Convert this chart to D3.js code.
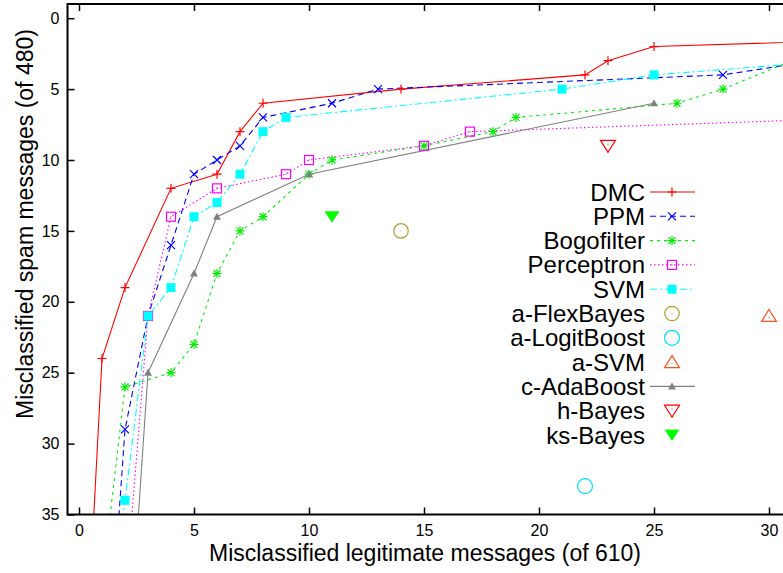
<!DOCTYPE html>
<html lang="en">
<head>
<meta charset="utf-8">
<title>Misclassified messages</title>
<script src="https://d3js.org/d3.v7.min.js"></script>
<style>
  body { margin: 0; background: #fff; }
  svg { font-family: "Liberation Sans", Arial, Helvetica, sans-serif; }
</style>
</head>
<body>
<script>
// data (x = legitimate misclassified, y = spam misclassified)
var dmcX = [0, 1, 2, 4, 6, 7, 8, 14, 22, 23, 25, 35];
var dmcY = [55, 24, 19, 12, 11, 8, 6, 5, 4, 3, 2, 1.5];
var ppmX = [1, 2, 3, 4, 5, 6, 7, 8, 11, 13, 28, 32];
var ppmY = [52, 29, 21, 16, 11, 10, 9, 7, 6, 5, 4, 3];
var bogoX = [1, 2, 4, 5, 6, 7, 8, 10, 11, 15, 18, 19, 26, 28, 31];
var bogoY = [40, 26, 25, 23, 18, 15, 14, 11, 10, 9, 8, 7, 6, 5, 3];
var percX = [2, 3, 4, 6, 9, 10, 15, 17, 40];
var percY = [41, 21, 14, 12, 11, 10, 9, 8, 6.7];
var svmX = [1, 2, 3, 4, 5, 6, 7, 8, 9, 21, 25, 33];
var svmY = [48, 34, 21, 19, 14, 13, 11, 8, 7, 5, 4, 3];
var adaX = [2, 3, 5, 6, 10, 25];
var adaY = [49, 25, 18, 14, 11, 6];
var flexX = [14], flexY = [15];
var logitX = [22], logitY = [33];
var asvmX = [30], asvmY = [21];
var hbayesX = [23], hbayesY = [9];
var ksX = [11], ksY = [14];

var xTicks = [0, 5, 10, 15, 20, 25, 30];
var yTicks = [0, 5, 10, 15, 20, 25, 30, 35];

var width = 783, height = 573;
var pLeft = 67.5, pTop = 4, pBottom = 514.5, pRight = 792;

var x = d3.scaleLinear().domain([-0.5, 31]).range([pLeft, pRight]);
var y = d3.scaleLinear().domain([-1, 35]).range([pTop, pBottom]);

var svg = d3.select("body").append("svg")
    .attr("width", width)
    .attr("height", height);

svg.append("clipPath").attr("id", "plotclip")
  .append("rect")
    .attr("x", pLeft).attr("y", pTop)
    .attr("width", pRight - pLeft).attr("height", pBottom - pTop);

function zip(xs, ys) {
  return xs.map(function(v, i) { return [v, ys[i]]; });
}

// marker painter, g is a group translated to the point
function marker(g, type, color) {
  if (type == "plus") {
    g.append("path").attr("d", "M-4.5,0H4.5M0,-4.5V4.5").attr("stroke", color).attr("stroke-width", 1.2).attr("fill", "none");
  } else if (type == "cross") {
    g.append("path").attr("d", "M-4,-4L4,4M-4,4L4,-4").attr("stroke", color).attr("stroke-width", 1.2).attr("fill", "none");
  } else if (type == "star") {
    g.append("path").attr("d", "M-4.5,0H4.5M0,-4.5V4.5M-3.5,-3.5L3.5,3.5M-3.5,3.5L3.5,-3.5").attr("stroke", color).attr("stroke-width", 1.2).attr("fill", "none");
  } else if (type == "box") {
    g.append("rect").attr("x", -4.5).attr("y", -4.5).attr("width", 9).attr("height", 9)
      .attr("fill", "none").attr("stroke", color).attr("stroke-width", 1.2);
    g.append("rect").attr("x", -0.5).attr("y", -0.5).attr("width", 1).attr("height", 1).attr("fill", color);
  } else if (type == "fbox") {
    g.append("rect").attr("x", -4.5).attr("y", -4.5).attr("width", 9).attr("height", 9).attr("fill", color);
  } else if (type == "circle") {
    g.append("circle").attr("r", 7.2).attr("fill", "none").attr("stroke", color).attr("stroke-width", 1.2);
    g.append("rect").attr("x", -0.5).attr("y", -0.5).attr("width", 1).attr("height", 1).attr("fill", color);
  } else if (type == "bigcircle") {
    g.append("circle").attr("r", 7.5).attr("fill", "none").attr("stroke", color).attr("stroke-width", 1.2);
  } else if (type == "tri") {
    g.append("path").attr("d", "M0,-6.5L7.5,5.5H-7.5Z").attr("fill", "none").attr("stroke", color).attr("stroke-width", 1.2);
    g.append("rect").attr("x", -0.5).attr("y", 1).attr("width", 1).attr("height", 1).attr("fill", color);
  } else if (type == "trid") {
    g.append("path").attr("d", "M0,6.5L7.5,-5.5H-7.5Z").attr("fill", "none").attr("stroke", color).attr("stroke-width", 1.2);
    g.append("rect").attr("x", -0.5).attr("y", -2).attr("width", 1).attr("height", 1).attr("fill", color);
  } else if (type == "ftrid") {
    g.append("path").attr("d", "M0,6L7.5,-5.5H-7.5Z").attr("fill", color);
  } else if (type == "ftri") {
    g.append("path").attr("d", "M0,-4L4,3H-4Z").attr("fill", color);
  }
}

var series = [
  {name: "DMC", xs: dmcX, ys: dmcY, color: "#ff0000", dash: null, mark: "plus", line: true},
  {name: "PPM", xs: ppmX, ys: ppmY, color: "#0000ff", dash: "6,4", mark: "cross", line: true},
  {name: "Bogofilter", xs: bogoX, ys: bogoY, color: "#00ee00", dash: "3,4", mark: "star", line: true},
  {name: "Perceptron", xs: percX, ys: percY, color: "#ff00ff", dash: "1.5,2.5", mark: "box", line: true},
  {name: "SVM", xs: svmX, ys: svmY, color: "#00ffff", dash: "7,3,2,3", mark: "fbox", line: true},
  {name: "a-FlexBayes", xs: flexX, ys: flexY, color: "#b0a030", dash: null, mark: "circle", line: false},
  {name: "a-LogitBoost", xs: logitX, ys: logitY, color: "#00e0ff", dash: null, mark: "bigcircle", line: false},
  {name: "a-SVM", xs: asvmX, ys: asvmY, color: "#ff5020", dash: null, mark: "tri", line: false},
  {name: "c-AdaBoost", xs: adaX, ys: adaY, color: "#808080", dash: null, mark: "ftri", line: true},
  {name: "h-Bayes", xs: hbayesX, ys: hbayesY, color: "#ff0000", dash: null, mark: "trid", line: false},
  {name: "ks-Bayes", xs: ksX, ys: ksY, color: "#00ff00", dash: null, mark: "ftrid", line: false}
];

var plot = svg.append("g").attr("clip-path", "url(#plotclip)");
var line = d3.line().x(function(d) { return x(d[0]); }).y(function(d) { return y(d[1]); });

// draw lines first, in legend order
series.forEach(function(s) {
  if (!s.line) return;
  plot.append("path")
    .datum(zip(s.xs, s.ys))
    .attr("d", line)
    .attr("fill", "none")
    .attr("stroke", s.color)
    .attr("stroke-width", 1.1)
    .attr("stroke-dasharray", s.dash);
});
series.forEach(function(s) {
  zip(s.xs, s.ys).forEach(function(p) {
    var g = plot.append("g").attr("transform", "translate(" + x(p[0]) + "," + y(p[1]) + ")");
    marker(g, s.mark, s.color);
  });
});

// axes, gnuplot style ticks pointing in
svg.append("g")
    .attr("transform", "translate(0," + pBottom + ")")
    .call(d3.axisBottom(x).tickValues(xTicks).tickSizeInner(-7).tickSizeOuter(0).tickPadding(10));
svg.append("g")
    .attr("transform", "translate(0," + pTop + ")")
    .call(d3.axisTop(x).tickValues(xTicks).tickSizeInner(-7).tickSizeOuter(0).tickFormat(""));
svg.append("g")
    .attr("transform", "translate(" + pLeft + ",0)")
    .call(d3.axisLeft(y).tickValues(yTicks).tickSizeInner(-7).tickSizeOuter(0).tickPadding(8));

svg.selectAll(".domain").remove();
svg.selectAll(".tick line").attr("stroke", "#000").attr("stroke-width", 1.5);
svg.selectAll(".tick text")
    .attr("font-family", null)
    .attr("fill", "#000")
    .style("font-size", "16px");

svg.append("rect")
    .attr("x", pLeft).attr("y", pTop)
    .attr("width", pRight - pLeft).attr("height", pBottom - pTop)
    .attr("fill", "none").attr("stroke", "#000").attr("stroke-width", 2);

// axis titles
svg.append("text")
    .attr("x", 425).attr("y", 561)
    .attr("text-anchor", "middle")
    .attr("font-size", 23)
    .text("Misclassified legitimate messages (of 610)");
svg.append("text")
    .attr("transform", "translate(33,224) rotate(-90)")
    .attr("text-anchor", "middle")
    .attr("font-size", 23)
    .text("Misclassified spam messages (of 480)");

// legend
var legend = svg.append("g");
series.forEach(function(s, i) {
  var cy = 192 + i * 24.3;
  legend.append("text")
    .attr("x", 645).attr("y", cy + 8.5)
    .attr("text-anchor", "end")
    .attr("font-size", 24)
    .text(s.name);
  if (s.line) {
    legend.append("line")
      .attr("x1", 650).attr("x2", 695).attr("y1", cy).attr("y2", cy)
      .attr("stroke", s.color).attr("stroke-width", 1.1)
      .attr("stroke-dasharray", s.dash);
  }
  var g = legend.append("g").attr("transform", "translate(672," + cy + ")");
  marker(g, s.mark, s.color);
});
</script>
</body>
</html>
